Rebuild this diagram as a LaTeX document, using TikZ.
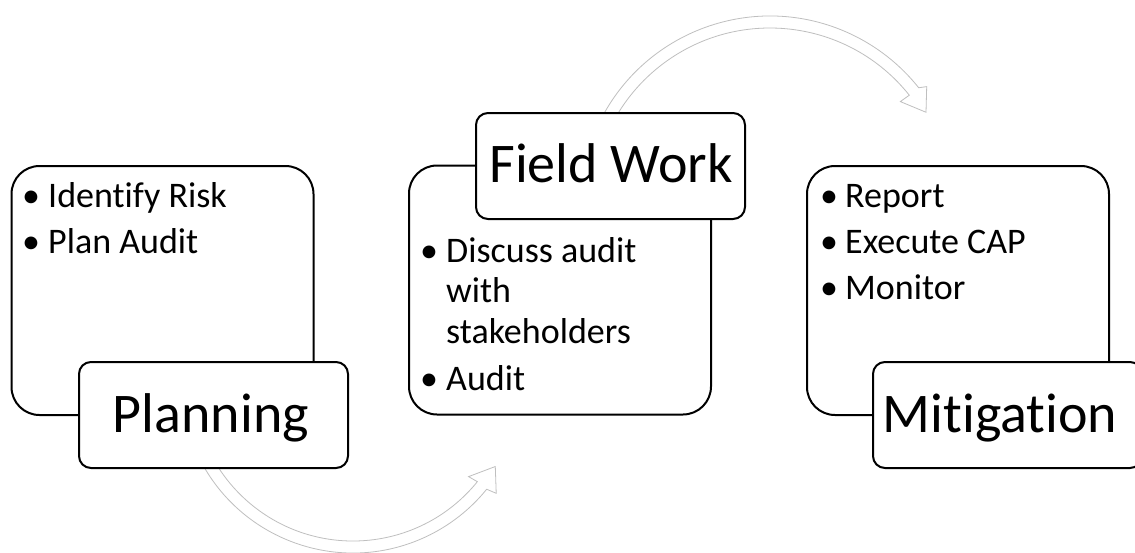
\documentclass[tikz,border=0pt]{standalone}
\usepackage{fontspec}
\setmainfont{Carlito}[Ligatures={NoCommon,NoContextual}]
\begin{document}
\begin{tikzpicture}[x=1pt,y=1pt,
  bigbox/.style={draw=black, line width=2pt, rounded corners=28pt, fill=white, minimum width=302pt, minimum height=249pt, inner sep=0pt},
  labelbox/.style={draw=black, line width=2pt, rounded corners=12pt, fill=white, minimum width=269pt, minimum height=106pt, inner sep=0pt},
  titletext/.style={font=\fontsize{56}{66}\selectfont, anchor=base, inner sep=0pt},
  itemtext/.style={font=\fontsize{36}{43}\selectfont, anchor=base west, inner sep=0pt},
  arrowshape/.style={draw=black!25, line width=0.8pt, fill=white, line join=miter}
]
\useasboundingbox (0,0) rectangle (1135,-552);
\clip (0,0) rectangle (1135,-552);

% block arrows
\begin{scope}[shift={(353,-381)}]
\draw[arrowshape] (205:172) coordinate (arrowAtail) arc[start angle=205,end angle=321,radius=172]
  -- (321.9:182) -- (329:166) coordinate (arrowAtip) -- (320.4:150) -- (321:160)
  arc[start angle=321,end angle=205,radius=160] -- cycle;
\end{scope}
\begin{scope}[shift={(770,-206)}]
\draw[arrowshape] (155:190) coordinate (arrowBtail) arc[start angle=155,end angle=38.5,radius=190]
  -- (37.3:197) -- (31:182) coordinate (arrowBtip) -- (38.7:167) -- (38.5:178)
  arc[start angle=38.5,end angle=155,radius=178] -- cycle;
\end{scope}

% content boxes
\node[bigbox] (planbox) at (162.5,-290.5) {};
\node[bigbox] (fieldbox) at (560,-290) {};
\node[bigbox] (mitbox) at (958,-290.5) {};

% label boxes
\node[labelbox] (planlabel) at (213.5,-415) {};
\node[labelbox] (fieldlabel) at (610.5,-166) {};
\node[labelbox] (mitlabel) at (1007.5,-415) {};

% titles
\node[titletext] (plantitle) at (211,-432) {Planning};
\node[titletext] (fieldtitle) at (611,-182) {Field Work};
\node[titletext] (mittitle) at (1000,-432) {Mitigation};

% Planning items
\node[itemtext] (pb1) at (22,-207) {•};
\node[itemtext] (pt1) at (48,-207) {Identify Risk};
\node[itemtext] (pb2) at (22,-253) {•};
\node[itemtext] (pt2) at (48,-253) {Plan Audit};

% Field Work items
\node[itemtext] (fb1) at (420,-262) {•};
\node[itemtext] (ft1) at (446,-262) {Discuss audit};
\node[itemtext] (ft1b) at (446,-302.5) {with};
\node[itemtext] (ft1c) at (446,-343) {stakeholders};
\node[itemtext] (fb2) at (420,-390) {•};
\node[itemtext] (ft2) at (446,-390) {Audit};

% Mitigation items
\node[itemtext] (mb1) at (820,-207) {•};
\node[itemtext] (mt1) at (845,-207) {Report};
\node[itemtext] (mb2) at (820,-253) {•};
\node[itemtext] (mt2) at (845,-253) {Execute CAP};
\node[itemtext] (mb3) at (820,-299) {•};
\node[itemtext] (mt3) at (845,-299) {Monitor};
\end{tikzpicture}
\end{document}
